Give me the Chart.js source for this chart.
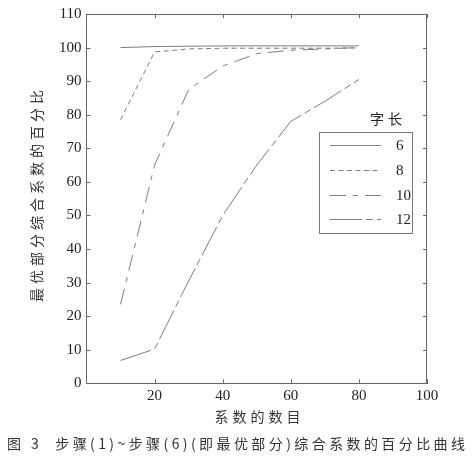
<!DOCTYPE html>
<html>
<head>
<meta charset="utf-8">
<script src="https://cdn.jsdelivr.net/npm/chart.js@4.4.1/dist/chart.umd.min.js"></script>
<style>
  html, body { margin: 0; padding: 0; background: #fff; }
  #wrap { width: 473px; height: 456px; position: relative; }
</style>
</head>
<body>
<div id="wrap"><canvas id="curveChart"></canvas></div>
<script>
// data
const coefCounts = [10, 20, 30, 40, 50, 60, 70, 80];
const wordLen6 = [100, 100.3, 100.4, 100.5, 100.5, 100.5, 100.5, 100.5];
const wordLen8 = [78.5, 98.7, 99.6, 99.8, 99.8, 99.8, 99.8, 99.9];
const wordLen10 = [23.5, 65, 87.5, 94.5, 98.2, 99.2, 99.6, 100];
const wordLen12 = [6.8, 10.2, 30.5, 50, 65, 78, 84, 90.5];
const seriesLabels = ['6', '8', '10', '12'];
const xTicks = [20, 40, 60, 80, 100];
const yTicks = [0, 10, 20, 30, 40, 50, 60, 70, 80, 90, 100, 110];

const legendTitle = '字长';
const xTitle = '系数的数目';
const yTitle = '最优部分综合系数的百分比';
const caption = '图 3  步骤(1)~步骤(6)(即最优部分)综合系数的百分比曲线';

const SERIF = '"Liberation Serif", "DejaVu Serif", serif';
const CJK = '"Noto Sans CJK SC", sans-serif';
const AXIS = '#666';
const LINE = '#7c7c7c';

const dashes = [[], [5, 3.5], [16, 7, 5, 7], [32, 4, 7, 4]];

function toPoints(ys) {
    return coefCounts.map((x, i) => ({ x: x, y: ys[i] }));
}

const allSeries = [wordLen6, wordLen8, wordLen10, wordLen12];

// draw text with spacing stretched to fit a given width
function spacedText(ctx, text, cx, cy, width, font) {
    ctx.save();
    ctx.font = font;
    ctx.letterSpacing = '0px';
    const w = ctx.measureText(text).width;
    const n = [...text].length;
    const sp = n > 1 ? (width - w) / (n - 1) : 0;
    ctx.letterSpacing = sp + 'px';
    ctx.textAlign = 'left';
    ctx.textBaseline = 'middle';
    ctx.fillText(text, cx - width / 2, cy);
    ctx.restore();
}

const decorPlugin = {
    id: 'decor',
    afterDraw(chart) {
        const ctx = chart.ctx;
        const a = chart.chartArea;
        const xs = chart.scales.x, ys = chart.scales.y;
        ctx.save();
        ctx.strokeStyle = AXIS;
        ctx.lineWidth = 1;
        ctx.beginPath();
        // top and right frame
        ctx.moveTo(a.left, a.top + 0.5); ctx.lineTo(a.right, a.top + 0.5);
        ctx.moveTo(a.right - 0.5, a.top); ctx.lineTo(a.right - 0.5, a.bottom);
        // inward ticks
        xTicks.forEach(v => {
            const px = Math.round(xs.getPixelForValue(v)) + 0.5;
            ctx.moveTo(px, a.bottom); ctx.lineTo(px, a.bottom - 4);
            ctx.moveTo(px, a.top); ctx.lineTo(px, a.top + 4);
        });
        yTicks.forEach(v => {
            const py = Math.round(ys.getPixelForValue(v)) + 0.5;
            ctx.moveTo(a.left, py); ctx.lineTo(a.left + 4, py);
            ctx.moveTo(a.right, py); ctx.lineTo(a.right - 4, py);
        });
        ctx.stroke();

        // legend box
        const bx = 319.5, by = 132.5, bw = 93, bh = 101;
        ctx.strokeStyle = '#777';
        ctx.strokeRect(bx, by, bw, bh);
        ctx.fillStyle = '#222';
        ctx.font = '14px ' + CJK;
        ctx.textAlign = 'center';
        ctx.textBaseline = 'middle';
        spacedText(ctx, legendTitle, 386, 119, 32, '14px ' + CJK);
        const rowY = [145, 170, 195, 219];
        chart.data.datasets.forEach((ds, i) => {
            ctx.beginPath();
            ctx.strokeStyle = LINE;
            ctx.setLineDash(ds.borderDash);
            ctx.moveTo(330, rowY[i] + 0.5);
            ctx.lineTo(381, rowY[i] + 0.5);
            ctx.stroke();
            ctx.setLineDash([]);
            ctx.fillStyle = '#222';
            ctx.font = '15px ' + SERIF;
            ctx.textAlign = 'left';
            ctx.fillText(ds.label, 396, rowY[i] + 1);
        });

        // axis titles and caption
        ctx.fillStyle = '#333';
        spacedText(ctx, xTitle, 257.5, 416.5, 86, '14px ' + CJK);
        ctx.save();
        ctx.translate(37, 196);
        ctx.rotate(-Math.PI / 2);
        spacedText(ctx, yTitle, 0, 0, 212, '14px ' + CJK);
        ctx.restore();
        spacedText(ctx, caption, 236, 444, 458, '14px ' + CJK);
        ctx.restore();
    }
};

const ctx = document.getElementById('curveChart').getContext('2d');
new Chart(ctx, {
    type: 'line',
    data: {
        datasets: allSeries.map((ys, i) => ({
            label: seriesLabels[i],
            data: toPoints(ys),
            borderColor: LINE,
            borderWidth: 1,
            borderDash: dashes[i],
            pointRadius: 0,
            tension: 0,
            fill: false,
        })),
    },
    options: {
        responsive: true,
        maintainAspectRatio: false,
        animation: false,
        events: [],
        layout: { padding: { left: 0, top: 10, right: 46, bottom: 0 } },
        plugins: {
            legend: { display: false },
            tooltip: { enabled: false },
        },
        scales: {
            x: {
                type: 'linear',
                min: 0,
                max: 100,
                afterFit(scale) { scale.height = 72.7; },
                afterBuildTicks(scale) { scale.ticks = xTicks.map(v => ({ value: v })); },
                grid: { display: true, drawOnChartArea: false, drawTicks: false },
                border: { color: AXIS, width: 1 },
                ticks: {
                    padding: 4,
                    color: '#222',
                    font: { family: SERIF, size: 15 },
                    maxRotation: 0,
                },
            },
            y: {
                type: 'linear',
                min: 0,
                max: 110,
                afterFit(scale) { scale.width = 86.5; },
                afterBuildTicks(scale) { scale.ticks = yTicks.map(v => ({ value: v })); },
                grid: { display: true, drawOnChartArea: false, drawTicks: false },
                border: { color: AXIS, width: 1 },
                ticks: {
                    padding: 5,
                    color: '#222',
                    font: { family: SERIF, size: 15 },
                },
            },
        },
    },
    plugins: [decorPlugin],
});
</script>
</body>
</html>
